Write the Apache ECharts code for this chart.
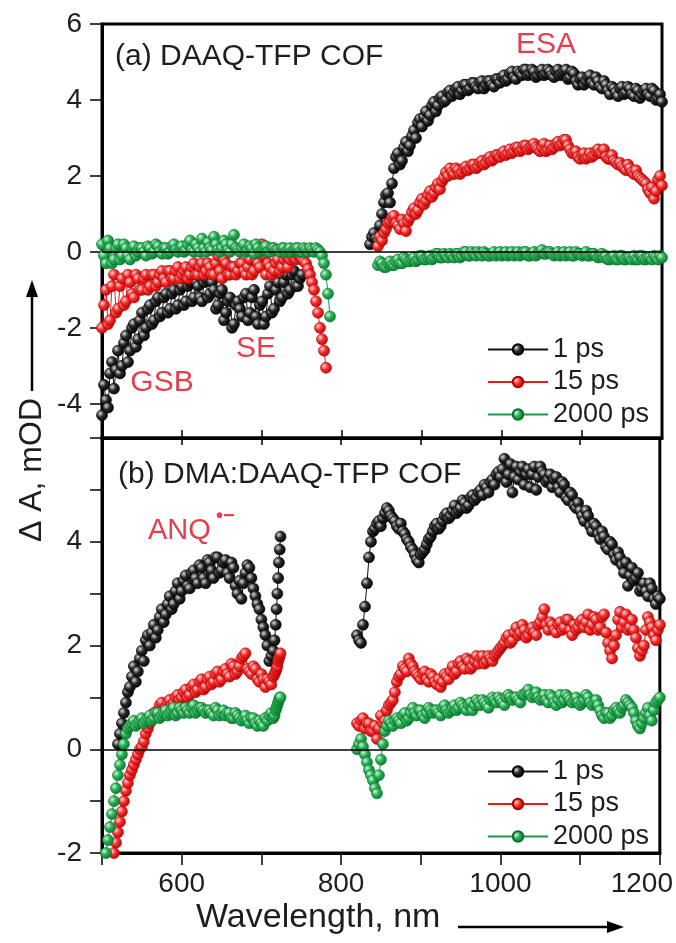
<!DOCTYPE html>
<html>
<head>
<meta charset="utf-8">
<script src="https://cdn.jsdelivr.net/npm/echarts@6/dist/echarts.min.js"></script>
<style>
html,body{margin:0;padding:0;background:#fff;}
#chart{width:676px;height:943px;}
</style>
</head>
<body>
<div id="chart"></div>
<script>
// ---------- Panel (a): DAAQ-TFP COF ----------
const wlA1 = [500,505,510,515,520,525,530,535,540,545,
              550,555,560,565,570,575,580,585,590,595,
              600,605,610,615,620,625,630,635,640,645,
              650,655,660,665,670,675,680,685,690,695,
              700,705,710,715,720,725,730,735,740,745,
              750,755,760,765,770,775,780,785];
const wlA1m = [502.5,507.5,512.5,517.5,522.5,527.5,532.5,537.5,542.5,547.5,
               552.5,557.5,562.5,567.5,572.5,577.5,582.5,587.5,592.5,597.5,
               602.5,607.5,612.5,617.5,622.5,627.5,632.5,637.5,642.5,647.5,
               652.5,657.5,662.5,667.5,672.5,677.5,682.5,687.5,692.5,697.5,
               702.5,707.5,712.5,717.5,722.5,727.5,732.5,737.5,742.5,747.5,
               752.5,757.5,762.5,767.5,772.5,777.5,782.5,787.5];
const a1ps_1 = [-4.3,-3.9,-3.2,-3.6,-2.6,-3.0,-2.2,-2.6,-1.9,-2.3,
                -1.6,-2.0,-1.4,-1.8,-1.2,-1.6,-1.1,-1.5,-1.0,-1.4,
                -0.9,-1.3,-0.8,-1.2,-0.9,-1.3,-0.7,-1.1,-1.0,-1.4,
                -1.0,-1.6,-1.2,-1.9,-1.3,-1.7,-1.1,-1.6,-1.0,-1.9,
                -1.3,-1.7,-0.9,-1.5,-0.8,-1.2,-0.6,-1.0,-0.5,-0.9,
                -0.6,null,null,null,null,null,null,null];
const a1ps_1m = [-3.5,-4.1,-2.9,-3.1,-3.2,-2.4,-2.9,-2.0,-2.5,-1.8,
                 -2.2,-1.5,-1.9,-1.3,-1.7,-1.2,-1.6,-1.1,-1.5,-1.0,
                 -1.4,-0.9,-1.3,-0.8,-1.2,-0.8,-1.2,-0.8,-1.5,-1.1,
                 -1.8,-1.3,-2.0,-1.4,-1.5,-1.2,-1.8,-1.2,-1.7,-1.4,
                 -1.9,-1.1,-1.6,-1.0,-1.3,-0.8,-1.1,-0.6,-0.9,-0.7,
                 null,null,null,null,null,null,null,null];
const a15ps_1 = [-2.0,-1.0,-1.8,-0.6,-1.5,-0.7,-1.3,-0.8,-1.2,-0.7,
                 -1.0,-0.6,-0.9,-0.6,-0.8,-0.5,-0.8,-0.5,-0.7,-0.4,
                 -0.6,-0.4,-0.6,-0.3,-0.6,-0.3,-0.5,-0.4,-0.6,-0.1,
                 -0.7,-0.3,-0.6,-0.4,-0.5,-0.3,-0.6,-0.2,-0.5,-0.3,
                 0.2,-0.6,-0.4,-0.5,-0.2,-0.4,-0.1,-0.2,0.0,-0.1,
                 -0.2,-0.3,-0.6,-1.0,-1.6,-2.3,-3.05,null];
const a15ps_1m = [-1.4,-1.9,-0.9,-1.6,-0.9,-1.4,-0.6,-1.1,-0.6,-1.0,
                  -0.7,-1.0,-0.6,-0.9,-0.6,-0.7,-0.5,-0.7,-0.5,-0.7,
                  -0.5,-0.7,-0.4,-0.6,-0.4,-0.6,-0.3,-0.6,-0.3,-0.5,
                  -0.2,-0.6,-0.4,-0.6,-0.3,-0.5,-0.4,-0.6,-0.2,-0.4,
                  -0.1,-0.3,-0.6,-0.3,-0.5,-0.2,-0.4,-0.1,-0.2,-0.1,
                  -0.25,-0.45,-0.8,-1.3,-2.0,-2.6,null,null];
const a2000ps_1 = [0.2,-0.3,0.1,-0.2,0.2,-0.1,0.1,-0.2,0.15,0.0,
                   0.1,-0.1,0.1,0.0,0.15,-0.05,0.1,0.0,0.2,0.0,
                   0.15,0.05,0.3,0.0,0.1,0.35,0.0,0.1,0.4,0.05,
                   0.1,0.2,0.0,0.45,0.05,0.1,0.0,0.15,-0.05,0.1,
                   0.05,0.15,0.0,0.1,0.05,0.1,0.0,0.1,0.05,0.1,
                   0.0,0.05,0.1,0.0,0.05,-0.1,-0.6,-1.7];
const a2000ps_1m = [-0.1,0.3,-0.3,0.1,-0.2,0.2,-0.1,0.1,-0.1,0.1,
                    0.0,0.15,-0.05,0.2,0.0,0.1,-0.05,0.15,0.05,0.1,
                    0.0,0.2,0.05,0.2,0.0,0.1,0.25,0.05,0.2,0.0,
                    0.3,0.05,0.2,0.1,0.0,0.2,0.05,0.1,0.2,0.0,
                    0.1,0.0,0.1,0.05,0.0,0.1,0.05,0.0,0.1,0.0,
                    0.1,0.0,0.05,0.1,0.0,-0.3,-1.1,null];

const wlA2 = [835,840,845,850,855,860,865,870,875,880,
              885,890,895,900,905,910,915,920,925,930,
              935,940,945,950,955,960,965,970,975,980,
              985,990,995,1000,1005,1010,1015,1020,1025,1030,
              1035,1040,1045,1050,1055,1060,1065,1070,1075,1080,
              1085,1090,1095,1100,1105,1110,1115,1120,1125,1130,
              1135,1140,1145,1150,1155,1160,1165,1170,1175,1180,
              1185,1190,1195,1200];
const wlA2m = [837.5,842.5,847.5,852.5,857.5,862.5,867.5,872.5,877.5,882.5,
               887.5,892.5,897.5,902.5,907.5,912.5,917.5,922.5,927.5,932.5,
               937.5,942.5,947.5,952.5,957.5,962.5,967.5,972.5,977.5,982.5,
               987.5,992.5,997.5,1002.5,1007.5,1012.5,1017.5,1022.5,1027.5,1032.5,
               1037.5,1042.5,1047.5,1052.5,1057.5,1062.5,1067.5,1072.5,1077.5,1082.5,
               1087.5,1092.5,1097.5,1102.5,1107.5,1112.5,1117.5,1122.5,1127.5,1132.5,
               1137.5,1142.5,1147.5,1152.5,1157.5,1162.5,1167.5,1172.5,1177.5,1182.5,
               1187.5,1192.5,1197.5,1202.5];
const a1ps_2 = [0.2,0.5,0.3,1.0,1.5,1.3,2.2,2.6,2.4,2.9,
                2.8,3.2,3.4,3.3,3.7,3.6,3.95,3.85,4.1,4.0,
                4.25,4.2,4.35,4.25,4.4,4.3,4.45,4.3,4.5,4.4,
                4.5,4.35,4.55,4.6,4.5,4.7,4.6,4.75,4.65,4.8,
                4.7,4.75,4.65,4.8,4.7,4.75,4.6,4.8,4.7,4.8,
                4.6,4.7,4.4,4.6,4.5,4.65,4.4,4.5,4.3,4.4,
                4.15,4.3,4.1,4.35,4.2,4.3,4.1,4.25,4.15,4.3,
                4.1,4.25,4.05,3.95];
const a1ps_2m = [0.4,0.35,0.7,1.3,1.55,1.8,2.5,2.3,2.75,2.65,
                 3.05,3.0,3.5,3.55,3.45,3.85,3.7,4.05,3.95,4.2,
                 4.1,4.3,4.15,4.4,4.25,4.45,4.35,4.45,4.3,4.5,
                 4.4,4.55,4.45,4.65,4.55,4.75,4.55,4.7,4.8,4.65,
                 4.8,4.6,4.75,4.65,4.8,4.65,4.75,4.65,4.75,4.55,
                 4.75,4.5,4.55,4.4,4.6,4.45,4.6,4.35,4.5,4.25,
                 4.35,4.2,4.3,4.15,4.35,4.15,4.3,4.05,4.25,4.15,
                 4.3,4.0,4.15,null];
const a15ps_2 = [null,null,0.15,0.3,0.6,0.8,0.95,0.7,0.85,0.55,
                 0.9,1.15,1.1,1.4,1.35,1.6,1.55,1.8,1.85,2.1,
                 2.2,2.05,2.15,2.1,2.25,2.2,2.3,2.25,2.4,2.35,
                 2.5,2.45,2.55,2.6,2.55,2.7,2.65,2.75,2.7,2.8,
                 2.75,2.85,2.7,2.75,2.65,2.8,2.75,2.9,2.85,2.95,
                 2.7,2.6,2.5,2.55,2.45,2.6,2.55,2.7,2.6,2.5,
                 2.45,2.4,2.3,2.25,2.15,2.2,2.05,2.0,1.9,1.8,
                 1.55,1.4,1.9,1.75];
const a15ps_2m = [null,null,0.4,0.5,0.75,0.9,0.75,0.6,0.75,0.8,
                  1.05,1.0,1.3,1.25,1.5,1.45,1.7,1.65,1.95,2.0,
                  2.1,2.2,2.05,2.2,2.15,2.3,2.2,2.35,2.3,2.45,
                  2.4,2.55,2.5,2.65,2.6,2.6,2.75,2.65,2.8,2.7,
                  2.8,2.75,2.65,2.85,2.7,2.7,2.85,2.8,2.95,2.8,
                  2.6,2.65,2.45,2.6,2.5,2.5,2.65,2.6,2.7,2.45,
                  2.55,2.35,2.35,2.2,2.3,2.1,2.15,1.95,1.85,1.65,
                  1.7,1.6,2.0,null];
const a2000ps_2 = [null,null,-0.35,-0.3,-0.4,-0.25,-0.35,-0.2,-0.3,-0.2,
                   -0.25,-0.15,-0.2,-0.1,-0.2,-0.1,-0.15,-0.05,-0.15,-0.1,
                   -0.05,-0.15,-0.05,-0.1,0.0,-0.1,-0.05,0.0,-0.1,-0.05,
                   -0.1,0.0,-0.05,-0.1,0.0,-0.05,-0.1,0.0,-0.05,0.0,
                   -0.1,0.0,-0.05,0.05,-0.05,0.0,-0.1,0.0,-0.05,-0.1,
                   0.0,-0.1,-0.05,-0.1,0.0,-0.1,-0.05,-0.15,-0.05,-0.1,
                   -0.2,-0.1,-0.2,-0.1,-0.2,-0.15,-0.1,-0.2,-0.1,-0.2,
                   -0.15,-0.1,-0.2,-0.15];
const a2000ps_2m = [null,null,-0.25,-0.4,-0.3,-0.35,-0.25,-0.3,-0.15,-0.25,
                    -0.2,-0.25,-0.1,-0.2,-0.15,-0.2,-0.05,-0.15,-0.05,-0.15,
                    -0.1,-0.05,-0.15,0.0,-0.1,0.0,-0.1,-0.05,0.0,-0.1,
                    -0.05,-0.1,0.0,-0.05,-0.1,0.0,-0.05,-0.1,0.0,-0.1,
                    -0.05,-0.1,0.0,-0.05,0.0,-0.05,-0.05,-0.1,0.0,-0.05,
                    -0.1,0.0,-0.05,-0.05,-0.1,-0.05,-0.1,-0.1,-0.15,-0.2,
                    -0.15,-0.2,-0.1,-0.2,-0.15,-0.2,-0.2,-0.1,-0.2,-0.15,
                    -0.2,-0.15,-0.1,null];

// ---------- Panel (b): DMA:DAAQ-TFP COF ----------
const wlB1 = [505,510,515,520,525,530,535,540,545,550,
              555,560,565,570,575,580,585,590,595,600,
              605,610,615,620,625,630,635,640,645,650,
              655,660,665,670,675,680,685,690,695,700,
              705,710,715,718,720,722,724];
const wlB1m = [507.5,512.5,517.5,522.5,527.5,532.5,537.5,542.5,547.5,552.5,
               557.5,562.5,567.5,572.5,577.5,582.5,587.5,592.5,597.5,602.5,
               607.5,612.5,617.5,622.5,627.5,632.5,637.5,642.5,647.5,652.5,
               657.5,662.5,667.5,672.5,677.5,682.5,687.5,692.5,697.5,702.5,
               707.5,712.5,716.5,719,721,723];
const b1ps_1 = [null,null,null,0.1,0.5,0.9,1.2,1.6,1.5,1.9,
                2.1,2.0,2.4,2.3,2.7,2.6,2.95,2.8,3.2,3.05,
                3.35,3.1,3.45,3.2,3.5,3.2,3.6,3.3,3.7,3.45,
                3.65,3.3,3.5,3.0,2.9,3.4,3.5,3.1,2.8,2.5,
                2.2,1.7,1.9,2.4,3.0,3.6,4.1];
const b1ps_1m = [null,null,null,0.3,0.7,1.1,1.4,1.3,1.75,1.7,
                 2.2,2.25,2.15,2.55,2.45,2.8,2.7,3.05,2.9,3.25,
                 3.15,3.4,3.3,3.55,3.3,3.65,3.45,3.7,3.4,3.6,
                 3.4,3.6,3.15,3.25,3.2,3.55,3.3,2.95,2.7,2.35,
                 2.0,1.8,2.1,2.7,3.3,3.85];
const b15ps_1 = [null,null,-2.0,-1.6,-1.2,-0.8,-0.5,-0.3,-0.1,0.05,
                 0.3,0.5,0.7,0.75,0.9,0.8,0.95,0.9,1.05,1.0,
                 1.15,1.05,1.25,1.15,1.35,1.2,1.4,1.3,1.5,1.35,
                 1.55,1.4,1.6,1.5,1.75,1.85,1.5,1.6,1.35,1.45,
                 1.2,1.3,1.4,1.5,1.6,1.75,1.85];
const b15ps_1m = [null,null,-1.8,-1.4,-1.0,-0.65,-0.4,-0.2,0.0,0.15,
                  0.4,0.6,0.65,0.85,0.75,0.9,0.85,1.0,0.95,1.1,
                  1.0,1.2,1.1,1.3,1.15,1.35,1.25,1.45,1.3,1.5,
                  1.45,1.65,1.45,1.6,1.8,1.55,1.45,1.55,1.3,1.35,
                  1.35,1.25,1.45,1.55,1.7,1.8];
const b2000ps_1 = [-2.0,-1.5,-1.0,-0.5,-0.1,0.3,0.45,0.55,0.5,0.6,
                   0.55,0.65,0.6,0.7,0.65,0.75,0.7,0.8,0.7,0.75,
                   0.8,0.7,0.85,0.75,0.8,0.7,0.75,0.65,0.75,0.7,
                   0.65,0.7,0.6,0.65,0.55,0.65,0.5,0.6,0.45,0.5,
                   0.6,0.65,0.6,0.75,0.85,0.95,1.0];
const b2000ps_1m = [-1.75,-1.25,-0.75,-0.3,0.1,0.4,0.5,0.45,0.55,0.5,
                    0.6,0.55,0.7,0.6,0.7,0.65,0.75,0.65,0.8,0.7,
                    0.75,0.8,0.7,0.8,0.75,0.75,0.7,0.8,0.65,0.75,
                    0.7,0.6,0.7,0.6,0.6,0.55,0.6,0.5,0.55,0.45,
                    0.55,0.7,0.65,0.8,0.9,1.0];

const wlB2 = [820,825,830,835,840,845,850,855,860,865,
              870,875,880,885,890,895,900,905,910,915,
              920,925,930,935,940,945,950,955,960,965,
              970,975,980,985,990,995,1000,1005,1010,1015,
              1020,1025,1030,1035,1040,1045,1050,1055,1060,1065,
              1070,1075,1080,1085,1090,1095,1100,1105,1110,1115,
              1120,1125,1130,1135,1140,1145,1150,1155,1160,1165,
              1170,1175,1180,1185,1190,1195,1200];
const wlB2m = [822.5,827.5,832.5,837.5,842.5,847.5,852.5,857.5,862.5,867.5,
               872.5,877.5,882.5,887.5,892.5,897.5,902.5,907.5,912.5,917.5,
               922.5,927.5,932.5,937.5,942.5,947.5,952.5,957.5,962.5,967.5,
               972.5,977.5,982.5,987.5,992.5,997.5,1002.5,1007.5,1012.5,1017.5,
               1022.5,1027.5,1032.5,1037.5,1042.5,1047.5,1052.5,1057.5,1062.5,1067.5,
               1072.5,1077.5,1082.5,1087.5,1092.5,1097.5,1102.5,1107.5,1112.5,1117.5,
               1122.5,1127.5,1132.5,1137.5,1142.5,1147.5,1152.5,1157.5,1162.5,1167.5,
               1172.5,1177.5,1182.5,1187.5,1192.5,1197.5,1202.5];
const b1ps_2 = [2.2,2.05,2.75,3.7,4.2,4.35,4.3,4.55,4.6,4.45,
                4.3,4.35,4.15,4.0,3.85,3.65,3.75,3.85,4.05,4.2,
                4.35,4.3,4.5,4.45,4.6,4.55,4.65,4.75,4.7,4.9,
                4.85,5.0,5.1,4.95,5.2,5.3,5.25,5.6,5.3,4.95,
                5.45,5.35,5.1,5.4,5.3,5.0,5.45,5.3,5.2,5.05,
                5.25,4.95,5.1,4.8,4.9,4.65,4.6,4.4,4.5,4.2,
                4.3,4.05,4.1,3.85,3.95,3.65,3.7,3.4,3.15,3.5,
                3.3,3.05,3.2,2.95,3.1,2.8,2.9];
const b1ps_2m = [2.1,2.4,3.2,4.0,4.25,4.4,4.45,4.65,4.5,4.4,
                 4.25,4.2,4.05,3.9,3.75,3.6,3.8,3.95,4.1,4.3,
                 4.25,4.4,4.55,4.5,4.7,4.6,4.8,4.65,4.85,4.8,
                 4.95,4.9,5.05,5.15,5.1,5.35,5.4,5.15,5.5,5.25,
                 5.2,5.45,5.3,5.05,5.45,5.25,5.35,5.15,5.3,5.2,
                 5.05,5.15,4.85,4.95,4.7,4.75,4.5,4.6,4.3,4.35,
                 4.15,4.2,3.9,4.0,3.75,3.8,3.55,3.6,3.35,3.25,
                 3.4,3.1,3.05,3.2,2.9,2.95,null];
const b15ps_2 = [0.5,0.55,0.4,0.5,0.35,0.2,0.65,0.55,0.85,0.95,
                 1.3,1.45,1.55,1.75,1.6,1.45,1.35,1.5,1.3,1.4,
                 1.25,1.2,1.45,1.35,1.6,1.5,1.7,1.55,1.7,1.6,
                 1.8,1.75,1.65,1.8,1.7,1.85,1.95,2.05,2.2,2.1,
                 2.35,2.25,2.3,2.2,2.35,2.2,2.45,2.7,2.3,2.4,
                 2.25,2.45,2.35,2.5,2.2,2.3,2.45,2.35,2.6,2.4,
                 2.5,2.35,2.6,2.05,1.75,2.2,2.65,2.45,2.3,2.5,
                 2.15,1.8,2.0,2.55,2.35,2.1,2.4];
const b15ps_2m = [0.45,0.6,0.5,0.35,0.45,0.4,0.5,0.75,0.9,1.1,
                  1.4,1.6,1.5,1.65,1.5,1.4,1.45,1.35,1.45,1.3,
                  1.35,1.3,1.4,1.5,1.45,1.65,1.6,1.75,1.55,1.7,
                  1.65,1.8,1.7,1.75,1.8,1.9,2.0,2.15,2.05,2.25,
                  2.2,2.4,2.15,2.3,2.25,2.4,2.55,2.4,2.45,2.3,
                  2.4,2.3,2.5,2.3,2.4,2.35,2.5,2.45,2.3,2.55,
                  2.3,2.55,2.25,1.9,2.0,2.5,2.35,2.6,2.35,2.3,
                  1.95,1.9,2.3,2.45,2.2,2.3,null];
const b2000ps_2 = [0.0,0.2,-0.1,-0.4,-0.6,-0.85,-0.2,0.35,0.55,0.45,
                   0.6,0.5,0.7,0.6,0.8,0.65,0.75,0.6,0.8,0.7,
                   0.75,0.65,0.85,0.7,0.8,0.75,0.9,0.8,0.85,0.75,
                   0.95,0.85,0.9,0.8,1.0,0.9,0.95,0.85,1.05,0.95,
                   1.0,0.9,1.05,1.15,1.0,1.1,0.95,1.05,0.9,1.0,
                   0.85,1.05,0.95,1.0,0.9,1.0,0.85,0.95,1.0,0.85,
                   0.95,0.75,0.6,0.7,0.65,0.8,0.7,0.85,0.9,0.8,
                   0.55,0.4,0.6,0.8,0.55,0.9,1.0];
const b2000ps_2m = [0.1,0.05,-0.25,-0.5,-0.75,-0.5,0.1,0.45,0.5,0.55,
                    0.55,0.65,0.55,0.7,0.7,0.75,0.65,0.7,0.75,0.75,
                    0.7,0.8,0.75,0.75,0.85,0.8,0.85,0.75,0.9,0.85,
                    0.9,0.95,0.85,0.95,0.95,1.0,0.9,1.0,1.0,1.0,
                    0.95,1.05,1.1,1.05,1.05,1.0,1.0,0.95,1.05,0.9,
                    0.95,0.9,1.05,0.95,0.95,0.9,0.9,1.05,0.9,0.9,
                    0.85,0.65,0.7,0.6,0.75,0.75,0.8,0.95,0.85,0.7,
                    0.45,0.5,0.7,0.65,0.75,0.95,null];

// ---------- Axis ticks / labels ----------
const xTickLabels = [600, 800, 1000, 1200];
const yTickLabelsA = [-4, -2, 0, 2, 4, 6];
const yTickLabelsB = [-2, 0, 2, 4];
const seriesNames = ['1 ps', '15 ps', '2000 ps'];

// ---------- styling ----------
const FONT = '"Liberation Sans", Arial, sans-serif';
const RED_TXT = '#e2404e';
function ball(c0, c1, c2) {
  return new echarts.graphic.RadialGradient(0.35, 0.35, 0.7, [
    {offset: 0, color: c0}, {offset: 0.45, color: c1}, {offset: 1, color: c2}
  ]);
}
const styles = {
  '1 ps':   {line: '#111', fill: ball('#d8d8d8', '#2a2a2a', '#000'), border: '#000'},
  '15 ps':  {line: '#e51c1c', fill: ball('#ffd0d0', '#f23030', '#c40000'), border: '#b00000'},
  '2000 ps':{line: '#1a9a45', fill: ball('#c8f5d5', '#27b055', '#0a7a30'), border: '#0a6e2c'}
};

function pairs(wl, vals, wlm, valsm) {
  const out = [];
  for (let i = 0; i < wl.length; i++) {
    if (vals[i] !== null && vals[i] !== undefined) out.push([wl[i], vals[i]]);
  }
  for (let i = 0; i < wlm.length; i++) {
    if (valsm[i] !== null && valsm[i] !== undefined) out.push([wlm[i], valsm[i]]);
  }
  out.sort((p, q) => p[0] - q[0]);
  return out;
}
function mk(name, data, panel, zero) {
  const st = styles[name];
  const s = {
    name: name, type: 'line',
    xAxisIndex: panel === 0 ? 0 : 1, yAxisIndex: panel,
    data: data,
    symbol: 'circle', symbolSize: 11, showAllSymbol: true,
    lineStyle: {color: st.line, width: 1},
    itemStyle: {color: st.fill, borderColor: st.border, borderWidth: 0.6},
    emphasis: {disabled: true},
    animation: false
  };
  if (zero) {
    s.markLine = {
      silent: true, symbol: 'none', animation: false,
      label: {show: false},
      lineStyle: {color: '#000', width: 1.6, type: 'solid'},
      data: [{yAxis: 0}]
    };
  }
  return s;
}

const series = [
  mk('1 ps', pairs(wlA1, a1ps_1, wlA1m, a1ps_1m), 0, false),
  mk('1 ps', pairs(wlA2, a1ps_2, wlA2m, a1ps_2m), 0, false),
  mk('15 ps', pairs(wlA1, a15ps_1, wlA1m, a15ps_1m), 0, false),
  mk('15 ps', pairs(wlA2, a15ps_2, wlA2m, a15ps_2m), 0, false),
  mk('2000 ps', pairs(wlA1, a2000ps_1, wlA1m, a2000ps_1m), 0, false),
  mk('2000 ps', pairs(wlA2, a2000ps_2, wlA2m, a2000ps_2m), 0, true),
  mk('1 ps', pairs(wlB1, b1ps_1, wlB1m, b1ps_1m), 1, false),
  mk('1 ps', pairs(wlB2, b1ps_2, wlB2m, b1ps_2m), 1, false),
  mk('15 ps', pairs(wlB1, b15ps_1, wlB1m, b15ps_1m), 1, false),
  mk('15 ps', pairs(wlB2, b15ps_2, wlB2m, b15ps_2m), 1, false),
  mk('2000 ps', pairs(wlB1, b2000ps_1, wlB1m, b2000ps_1m), 1, false),
  mk('2000 ps', pairs(wlB2, b2000ps_2, wlB2m, b2000ps_2m), 1, true)
];

const axisLineStyle = {show: true, onZero: false, lineStyle: {color: '#000', width: 3}};
const labelStyle = {fontFamily: FONT, fontSize: 28, color: '#1e1e1e'};

const legendCommon = {
  orient: 'vertical', itemWidth: 60, itemHeight: 13, itemGap: 5.5,
  data: seriesNames,
  textStyle: {fontFamily: FONT, fontSize: 27, color: '#1e1e1e', lineHeight: 27},
  selectedMode: false
};

const option = {
  backgroundColor: '#fff',
  animation: false,
  grid: [
    {left: 102, top: 24, width: 560, height: 414, show: true, borderColor: '#000', borderWidth: 3, backgroundColor: 'transparent'},
    {left: 102, top: 438, width: 560, height: 415, show: true, borderColor: '#000', borderWidth: 3, backgroundColor: 'transparent'}
  ],
  xAxis: [
    {type: 'value', gridIndex: 0, min: 500, max: 1200, interval: 100,
     axisLine: axisLineStyle, splitLine: {show: false},
     axisTick: {show: true, inside: true, length: 8, lineStyle: {width: 1.5, color: '#000'}},
     axisLabel: {show: false}},
    {type: 'value', gridIndex: 1, min: 500, max: 1200, interval: 100,
     axisLine: axisLineStyle, splitLine: {show: false},
     axisTick: {show: true, inside: false, length: 12, lineStyle: {width: 1.5, color: '#000'}},
     axisLabel: Object.assign({show: true, margin: 17, customValues: xTickLabels,
       formatter: function (v) { return v === 1200 ? '{e|1200}' : String(v); },
       rich: {e: {fontFamily: FONT, fontSize: 28, color: '#1e1e1e', padding: [0, 36, 0, 0]}}
     }, labelStyle)},
    {type: 'value', gridIndex: 1, position: 'top', min: 500, max: 1200, interval: 100,
     axisLine: axisLineStyle, splitLine: {show: false},
     axisTick: {show: true, inside: true, length: 7, lineStyle: {width: 1.5, color: '#000'}},
     axisLabel: {show: false}}
  ],
  yAxis: [
    {type: 'value', gridIndex: 0, min: -4.9, max: 6,
     axisLine: axisLineStyle, splitLine: {show: false},
     axisTick: {show: true, inside: false, length: 12, customValues: yTickLabelsA, lineStyle: {width: 1.5, color: '#000'}},
     axisLabel: Object.assign({show: true, margin: 20, customValues: yTickLabelsA}, labelStyle)},
    {type: 'value', gridIndex: 1, min: -2, max: 6, interval: 1,
     axisLine: axisLineStyle, splitLine: {show: false},
     axisTick: {show: true, inside: false, length: 12, lineStyle: {width: 1.5, color: '#000'}},
     axisLabel: Object.assign({show: true, margin: 20, customValues: yTickLabelsB}, labelStyle)}
  ],
  legend: [
    Object.assign({left: 482, top: 331}, legendCommon),
    Object.assign({left: 482, top: 753}, legendCommon)
  ],
  series: series,
  graphic: [
    {type: 'text', x: 115, y: 57, z: 100, style: {text: '(a) DAAQ-TFP COF', font: '30px ' + FONT, fill: '#1e1e1e', align: 'left', verticalAlign: 'middle'}},
    {type: 'text', x: 118, y: 475, z: 100, style: {text: '(b) DMA:DAAQ-TFP COF', font: '30px ' + FONT, fill: '#1e1e1e', align: 'left', verticalAlign: 'middle'}},
    {type: 'text', x: 546, y: 45, z: 100, style: {text: 'ESA', font: '30px ' + FONT, fill: RED_TXT, align: 'center', verticalAlign: 'middle'}},
    {type: 'text', x: 256, y: 349, z: 100, style: {text: 'SE', font: '30px ' + FONT, fill: RED_TXT, align: 'center', verticalAlign: 'middle'}},
    {type: 'text', x: 162, y: 383, z: 100, style: {text: 'GSB', font: '30px ' + FONT, fill: RED_TXT, align: 'center', verticalAlign: 'middle'}},
    {type: 'text', x: 148, y: 531, z: 100, style: {text: 'ANQ', font: '29px ' + FONT, fill: RED_TXT, align: 'left', verticalAlign: 'middle'}},
    {type: 'text', x: 216, y: 516, z: 100, style: {text: '•−', font: 'bold 20px ' + FONT, fill: RED_TXT, align: 'left', verticalAlign: 'middle'}},
    // y-axis title + arrow
    {type: 'text', x: 32, y: 470, rotation: Math.PI / 2, z: 100, style: {text: 'Δ A, mOD', font: '32px ' + FONT, fill: '#1e1e1e', align: 'center', verticalAlign: 'middle'}},
    {type: 'line', z: 100, shape: {x1: 32, y1: 391, x2: 32, y2: 292}, style: {stroke: '#000', lineWidth: 2.5}},
    {type: 'polygon', z: 100, shape: {points: [[32, 280], [26, 297], [38, 297]]}, style: {fill: '#000'}},
    // x-axis title + arrow
    {type: 'text', x: 196, y: 918, z: 100, style: {text: 'Wavelength, nm', font: '34px ' + FONT, fill: '#1e1e1e', align: 'left', verticalAlign: 'middle'}},
    {type: 'line', z: 100, shape: {x1: 458, y1: 927, x2: 610, y2: 927}, style: {stroke: '#000', lineWidth: 2.5}},
    {type: 'polygon', z: 100, shape: {points: [[624, 927], [607, 921], [607, 933]]}, style: {fill: '#000'}}
  ]
};

const chart = echarts.init(document.getElementById('chart'), null, {renderer: 'canvas'});
chart.setOption(option);
</script>
</body>
</html>
